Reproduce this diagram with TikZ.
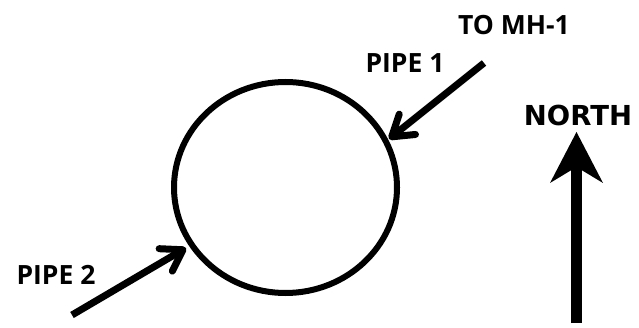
\documentclass[tikz,border=0pt]{standalone}
\usepackage{fontspec}
\setmainfont{Open Sans}
\newfontfamily\northfont{DejaVu Sans}
\usetikzlibrary{shapes.geometric,arrows.meta}
\tikzset{
  manhole/.style={ellipse, minimum width=229pt, minimum height=217pt, inner sep=0pt, outer sep=0pt},
  pipearrow/.style={line width=7pt, -{Straight Barb[length=20pt, width=26pt, line cap=round, line join=round]}},
  lbl/.style={font=\fontsize{26.5}{26.5}\selectfont\bfseries, inner sep=0pt},
  northlbl/.style={font=\northfont\fontsize{27.5}{27.5}\selectfont\bfseries, inner sep=0pt}
}
\begin{document}
\begin{tikzpicture}[x=1pt,y=-1pt]
\useasboundingbox (0,0) rectangle (639,328);
\node[manhole] (mh) at (285.5,187.5) {};
\draw[line width=6pt] (mh.center) ellipse [x radius=111.5pt, y radius=105.5pt];
\node[lbl] (to) at (514,25) {TO MH-1};
\node[lbl] (p1) at (405,63) {PIPE 1};
\node[lbl] (p2) at (56,275) {PIPE 2};
\node[northlbl] (north) at (578,115) {NORTH};
\coordinate (p1s) at (484,63);
\coordinate (p1e) at (389,139);
\coordinate (p2s) at (72,315);
\coordinate (p2e) at (186,248);
\draw[pipearrow] (p1s) -- (p1e);
\draw[pipearrow] (p2s) -- (p2e);
% north arrow
\coordinate (nb) at (576.5,323);
\coordinate (nn) at (576.5,166);
\coordinate (nt) at (576.5,132);
\draw[line width=11pt] (nb) -- (nn);
\fill (nt) -- (603,183) -- (576.5,167) -- (550,183) -- cycle;
\end{tikzpicture}
\end{document}
